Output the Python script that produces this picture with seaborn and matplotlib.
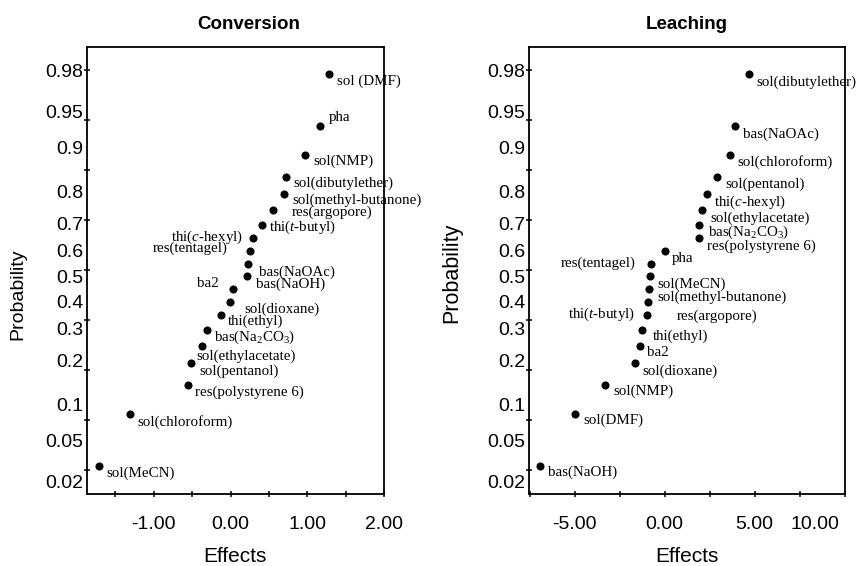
import statistics
import numpy as np
import pandas as pd
import matplotlib
matplotlib.use('Agg')
import matplotlib.pyplot as plt
import matplotlib.transforms as mtransforms
from matplotlib.ticker import FixedLocator, FixedFormatter, NullFormatter
import seaborn as sns

# ---------------- data ----------------
conv_labels = ['sol (DMF)', 'pha', 'sol(NMP)', 'sol(dibutylether)', 'sol(methyl-butanone)',
               'res(argopore)', r'thi($\mathit{t}$-butyl)', r'thi($\mathit{c}$-hexyl)', 'res(tentagel)',
               'bas(NaOAc)', 'bas(NaOH)', 'ba2', 'sol(dioxane)', 'thi(ethyl)', r'bas(Na$_2$CO$_3$)',
               'sol(ethylacetate)', 'sol(pentanol)', 'res(polystyrene 6)', 'sol(chloroform)', 'sol(MeCN)']
conv_effects = [1.28, 1.17, 0.97, 0.72, 0.70, 0.55, 0.41, 0.29, 0.25, 0.23, 0.22, 0.03, -0.01,
                -0.13, -0.31, -0.37, -0.51, -0.56, -1.31, -1.72]

lea_labels = ['sol(dibutylether)', 'bas(NaOAc)', 'sol(chloroform)', 'sol(pentanol)',
              r'thi($\mathit{c}$-hexyl)', 'sol(ethylacetate)', r'bas(Na$_2$CO$_3$)', 'res(polystyrene 6)',
              'pha', 'res(tentagel)', 'sol(MeCN)', 'sol(methyl-butanone)', 'res(argopore)',
              r'thi($\mathit{t}$-butyl)', 'thi(ethyl)', 'ba2', 'sol(dioxane)', 'sol(NMP)', 'sol(DMF)',
              'bas(NaOH)']
lea_effects = [4.71, 3.91, 3.63, 2.93, 2.33, 2.10, 1.93, 1.91, 0.02, -0.76, -0.83, -0.85, -0.91,
               -0.99, -1.28, -1.37, -1.67, -3.29, -4.98, -6.92]

prob_ticks = [0.02, 0.05, 0.1, 0.2, 0.3, 0.4, 0.5, 0.6, 0.7, 0.8, 0.9, 0.95, 0.98]
prob_tick_labels = ['0.02', '0.05', '0.1', '0.2', '0.3', '0.4', '0.5', '0.6', '0.7', '0.8',
                    '0.9', '0.95', '0.98']

conv_xticks = [-1, 0, 1, 2]
conv_xtick_labels = ['-1.00', '0.00', '1.00', '2.00']
lea_xticks = [-5, 0, 5, 10]
lea_xtick_labels = ['-5.00', '0.00', '5.00', '10.00']

titles = ['Conversion', 'Leaching']

# ---------------- label placement (pixels, right / down) ----------------
conv_offsets = [(8, 7.7), (8.3, -8.4), (8, 6.7), (7.3, 6.6), (8, 5.7), (19.4, 2), (7, 2.4),
                (-10, -0.7), (-21.7, -2.7), (11, 8.7), (9, 7.7), (-14.4, -5), (15, 7), (7.6, 6),
                (7, 7.4), (-6, 10.3), (7.6, 7.6), (7.3, 7.3), (7.6, 7.7), (7.7, 7.7)]
conv_left = {7, 8, 11}
lea_offsets = [(7.3, 8.7), (8.4, 8), (7.7, 7.3), (7.6, 7.3), (7, 7.4), (7.6, 8.3), (8.4, 7.3),
               (7.7, 7.7), (7, 7.3), (-15.7, -0.7), (7.7, 7.6), (7.7, 8.5), (28.4, 14),
               (-11.7, -1), (11, 6.7), (7.3, 7.3), (7.5, 7.6), (7.7, 6.6), (8.3, 6.6), (8, 6.7)]
lea_left = {9, 13}

# ---------------- style ----------------
plt.rcParams['font.family'] = ['Liberation Sans', 'DejaVu Sans']
plt.rcParams['mathtext.fontset'] = 'custom'
plt.rcParams['mathtext.rm'] = 'Liberation Serif'
plt.rcParams['mathtext.it'] = 'Liberation Serif:italic'
plt.rcParams['mathtext.bf'] = 'Liberation Serif:bold'
plt.rcParams['axes.unicode_minus'] = False

nd = statistics.NormalDist()


def prob_positions(effects):
    s = pd.Series(effects)
    r = s.rank(method='first', ascending=True)
    n = len(s)
    return [nd.inv_cdf((ri - 0.5) / n) for ri in r]


fig = plt.figure(figsize=(8.64, 5.66), dpi=100)
W, H = 864, 566
ax1 = fig.add_axes([86.7 / W, 1 - 494.3 / H, (384 - 86.7) / W, (494.3 - 46.7) / H])
ax2 = fig.add_axes([528.7 / W, 1 - 494.3 / H, (844.7 - 528.7) / W, (494.3 - 46.7) / H])

panels = [
    (ax1, conv_labels, conv_effects, conv_offsets, conv_left, conv_xticks, conv_xtick_labels,
     (-1.875, 2.0), [-1.5, -0.5, 0.5, 1.5], 0.545, (-0.203, 0.4475), 14),
    (ax2, lea_labels, lea_effects, lea_offsets, lea_left, lea_xticks, lea_xtick_labels,
     (-7.55, 10.0), [-7.5, -2.5, 2.5, 7.5], 0.5, (-0.211, 0.495), 15.5),
]

serif = ['Liberation Serif', 'DejaVu Serif']

for i, (ax, labels, effects, offsets, left, xt, xtl, xlim, xminor, tx, ylc, yls) in enumerate(panels):
    z = prob_positions(effects)
    df = pd.DataFrame({'effect': effects, 'z': z, 'label': labels})
    sns.scatterplot(data=df, x='effect', y='z', ax=ax, color='black', s=34, linewidth=0,
                    legend=False, zorder=3)
    for k, row in df.iterrows():
        dx, dy = offsets[k]
        ax.annotate(row['label'], (row['effect'], row['z']), xytext=(dx, -dy),
                    textcoords='offset pixels', ha='right' if k in left else 'left',
                    va='center', fontsize=10.8, family=serif, color='black',
                    annotation_clip=False)

    ax.set_xlim(*xlim)
    ax.set_ylim(-2.243, 2.233)

    # y axis: labels at probability quantiles, marks every half z-unit
    ax.yaxis.set_major_locator(FixedLocator([nd.inv_cdf(p) for p in prob_ticks]))
    ax.yaxis.set_major_formatter(FixedFormatter(prob_tick_labels))
    ax.yaxis.set_minor_locator(FixedLocator(list(np.arange(-2, 2.01, 0.5))))
    ax.yaxis.set_minor_formatter(NullFormatter())
    ax.yaxis.remove_overlapping_locs = False

    ax.xaxis.set_major_locator(FixedLocator(xt))
    ax.xaxis.set_major_formatter(FixedFormatter(xtl))
    ax.xaxis.set_minor_locator(FixedLocator(xminor))
    ax.xaxis.set_minor_formatter(NullFormatter())

    ax.tick_params(axis='x', which='both', direction='inout', length=5, width=1.1, pad=13.2,
                   labelsize=14, colors='black')
    ax.tick_params(axis='y', which='major', length=0, pad=2.4, labelsize=14, colors='black')
    ax.tick_params(axis='y', which='minor', direction='inout', length=5, width=1.1, colors='black')

    for sp in ax.spines.values():
        sp.set_linewidth(1.3)
        sp.set_color('black')

    shift = mtransforms.ScaledTranslation(0, -0.06, fig.dpi_scale_trans)
    for lab in ax.get_yticklabels():
        lab.set_transform(lab.get_transform() + shift)

    ax.set_xlabel('Effects', fontsize=15)
    ax.xaxis.set_label_coords(0.5, -0.117)
    ax.set_ylabel('Probability', fontsize=yls)
    ax.yaxis.set_label_coords(*ylc)
    ax.set_title(titles[i], fontsize=13.5, fontweight='bold', x=tx, pad=12.5)
    ax.grid(False)

xl = ax2.get_xticklabels()
xl[-1].set_horizontalalignment('right')
xl[-1].set_transform(xl[-1].get_transform() +
                     mtransforms.ScaledTranslation(-0.05, 0, fig.dpi_scale_trans))

fig.savefig('out.png', dpi=100)
